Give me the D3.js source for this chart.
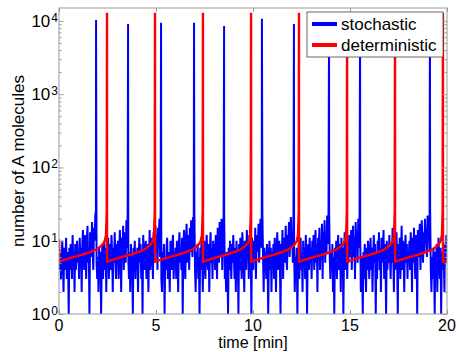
<!DOCTYPE html>
<html>
<head>
<meta charset="utf-8">
<script src="https://cdn.jsdelivr.net/npm/d3@7"></script>
<style>
    body { margin: 0; background: #fff; }
    svg { display: block; font-family: "Liberation Sans", Arial, Helvetica, sans-serif; }
</style>
</head>
<body>
<svg id="chart" width="459" height="352"></svg>
<script>
// ---- data ----
const xTicks = [0, 5, 10, 15, 20];
const yDecades = [1, 10, 100, 1000, 10000];
const yDecadeExp = ['0', '1', '2', '3', '4'];

// stochastic trace: copy numbers, 30 samples per minute over 0..20 min
const stochValues = [
    9,4,7,3,6,10,5,2,8,4,6,11,3,7,5,1,8,4,9,6,3,12,5,7,2,9,4,6,10,5,
    7,3,11,5,8,2,9,14,6,4,12,7,3,10,16,5,8,1,13,6,9,18,7,4,15,10,22,26,5,3,
    6,2,8,4,7,1,5,9,3,6,10,4,8,2,7,5,11,3,6,9,4,12,7,2,8,5,13,6,3,9,
    5,10,3,8,14,6,2,11,7,16,4,9,13,5,19,8,24,6,3,7,2,9,4,6,1,8,5,10,3,7,
    4,8,2,6,11,5,9,3,7,1,12,6,4,8,10,3,5,9,2,7,14,4,6,11,8,3,13,5,9,16,
    7,12,4,15,9,20,6,28,3,2,7,5,9,1,6,4,8,11,3,7,5,2,10,6,4,9,12,3,7,5,
    8,3,10,6,2,9,13,5,7,4,11,1,8,14,6,3,10,17,5,9,12,4,15,7,19,10,6,21,8,25,
    4,2,7,5,9,3,6,1,8,4,11,6,2,7,10,5,3,8,12,6,4,9,2,7,13,5,8,3,10,6,
    9,4,12,7,3,15,8,5,18,6,11,20,4,14,9,23,3,6,2,7,5,1,8,4,10,6,3,9,5,12,
    6,3,8,2,10,5,7,1,9,4,11,6,3,13,8,5,2,10,7,4,14,6,9,3,12,5,8,1,11,7,
    4,10,6,15,3,9,12,7,17,5,11,20,8,14,24,6,2,8,4,7,3,9,5,1,6,10,4,8,2,7,
    5,9,3,11,6,2,8,13,4,7,10,5,1,9,6,14,3,8,11,5,16,7,4,12,9,18,6,10,21,8,
    13,5,24,7,2,6,4,8,1,5,9,3,7,11,4,6,2,10,5,8,3,12,6,1,7,9,4,11,5,8,
    3,10,6,12,4,8,14,5,9,2,11,7,15,4,10,6,17,3,13,8,19,5,11,7,22,9,14,26,6,3,
    7,4,9,2,6,1,8,5,10,3,7,12,4,6,9,2,11,5,8,1,6,13,4,7,10,3,9,5,12,6,
    8,14,4,10,16,6,11,3,18,9,13,5,20,8,23,12,2,6,4,1,7,3,9,5,2,8,4,10,6,3,
    7,11,4,8,2,6,12,5,9,1,7,3,10,6,13,4,8,2,11,5,7,14,3,9,6,1,10,4,8,5,
    12,6,3,9,5,15,7,2,10,4,8,13,6,1,9,5,11,3,7,16,4,10,6,2,8,12,5,9,3,7,
    6,10,4,13,8,2,11,5,15,7,3,12,9,1,14,6,10,17,4,8,19,11,5,13,7,20,9,15,6,22,
    10,18,7,25,4,2,6,3,8,5,1,7,4,9,2,6,11,5,3,8,1,7,4,10,6,2,9,5,12,7
];
const stochSpikeTimes = [1.91, 3.56, 5.26, 6.96, 8.51, 10.46, 12.11, 13.92, 15.52, 19.12];
const stochSpikePeaks = [10300, 9100, 9400, 9400, 8500, 10700, 9100, 9500, 9300, 9400];

// deterministic trace: spike times, peak and the rise before each spike
const detSpikeTimes = [2.474, 4.948, 7.42, 9.90, 12.37, 14.85, 17.32, 19.79];
const detPeak = 12900;
const detStart = [10.5, 5.2];            // value at t=0, then right after
const detRiseBefore = [2.45, 2.0, 1.5, 1.0, 0.5, 0.25, 0.12, 0.05, 0.015]; // minutes before spike
const detRiseValues = [5.2, 5.7, 6.2, 6.8, 7.7, 8.7, 9.8, 12, 25];
const detEnd = 5.25;

// ---- layout ----
const svg = d3.select('#chart');
const mLeft = 59, mRight = 447, mTop = 8, mBottom = 314;
const axisColor = '#9a9a9a';
const fs = 17;

const x = d3.scaleLinear().domain([0, 20]).range([mLeft, mRight]);
const y = d3.scaleLog().domain([1, 15000]).range([mBottom, mTop]);

svg.append('defs').append('clipPath').attr('id', 'plotClip')
    .append('rect').attr('x', mLeft).attr('y', mTop)
    .attr('width', mRight - mLeft).attr('height', mBottom - mTop);

// build stochastic points, with spikes slotted in at their times
const nS = stochValues.length;
let stochPts = stochValues.map((v, i) => [i * 20 / (nS - 1), v]);
stochSpikeTimes.forEach((t, k) => stochPts.push([t, stochSpikePeaks[k]]));
stochPts.sort((a, b) => a[0] - b[0]);

// build deterministic points
let detPts = [[0, detStart[0]], [0.02, detStart[1]]];
detSpikeTimes.forEach((ts, k) => {
    const prev = k == 0 ? 0.02 : detSpikeTimes[k - 1] + 0.004;
    if (k > 0) detPts.push([prev, detStart[1]]);
    detRiseBefore.forEach((dt, j) => {
        const t = ts - dt;
        if (t > prev) detPts.push([t, detRiseValues[j]]);
    });
    detPts.push([ts, detPeak]);
});
detPts.push([detSpikeTimes[detSpikeTimes.length - 1] + 0.004, detStart[1]]);
detPts.push([20, detEnd]);

const line = d3.line().x(d => x(d[0])).y(d => y(d[1]));

const plot = svg.append('g').attr('clip-path', 'url(#plotClip)');
plot.append('path').datum(stochPts)
    .attr('d', line).attr('fill', 'none')
    .attr('stroke', '#0000ff').attr('stroke-width', 2).attr('stroke-linejoin', 'bevel');
plot.append('path').datum(detPts)
    .attr('d', line).attr('fill', 'none')
    .attr('stroke', '#ff0000').attr('stroke-width', 2.4);

// ---- axes (ticks inside, MATLAB box) ----
let minor = [];
yDecades.forEach(d => { for (let m = 2; m <= 9; m++) if (d * m < 15000) minor.push(d * m); });

function styleAxis(g) {
    g.select('.domain').remove();
    g.selectAll('line').attr('stroke', axisColor);
}
svg.append('g').attr('transform', `translate(${mLeft},0)`)
    .call(d3.axisLeft(y).tickValues(yDecades).tickSize(-4.5).tickFormat(''))
    .call(styleAxis);
svg.append('g').attr('transform', `translate(${mLeft},0)`)
    .call(d3.axisLeft(y).tickValues(minor).tickSize(-2.5).tickFormat(''))
    .call(styleAxis);
svg.append('g').attr('transform', `translate(${mRight},0)`)
    .call(d3.axisRight(y).tickValues(yDecades).tickSize(-4.5).tickFormat(''))
    .call(styleAxis);
svg.append('g').attr('transform', `translate(${mRight},0)`)
    .call(d3.axisRight(y).tickValues(minor).tickSize(-2.5).tickFormat(''))
    .call(styleAxis);
svg.append('g').attr('transform', `translate(0,${mBottom})`)
    .call(d3.axisBottom(x).tickValues(xTicks).tickSize(-4).tickFormat(''))
    .call(styleAxis);
svg.append('g').attr('transform', `translate(0,${mTop})`)
    .call(d3.axisTop(x).tickValues(xTicks).tickSize(-4).tickFormat(''))
    .call(styleAxis);

svg.append('rect').attr('x', mLeft).attr('y', mTop)
    .attr('width', mRight - mLeft).attr('height', mBottom - mTop)
    .attr('fill', 'none').attr('stroke', axisColor).attr('stroke-width', 1);

// tick labels
const yLab = svg.append('g').attr('font-size', fs).attr('fill', '#000');
yDecades.forEach((d, i) => {
    const t = yLab.append('text').attr('x', 58).attr('y', y(d) + 6).attr('text-anchor', 'end');
    t.append('tspan').text('10');
    t.append('tspan').attr('font-size', 12).attr('dy', -5).attr('dx', 1).text(yDecadeExp[i]);
});
svg.append('g').selectAll('text').data(xTicks).enter().append('text')
    .attr('x', d => x(d)).attr('y', 330.5)
    .attr('text-anchor', 'middle').attr('font-size', 16)
    .text(d => d);

svg.append('text').attr('x', (mLeft + mRight) / 2).attr('y', 348.3)
    .attr('text-anchor', 'middle').attr('font-size', 16).text('time [min]');
svg.append('text').attr('transform', `translate(24,${(mTop + mBottom) / 2}) rotate(-90)`)
    .attr('text-anchor', 'middle').attr('font-size', fs).text('number of A molecules');

// ---- legend ----
const leg = svg.append('g');
leg.append('rect').attr('x', 307).attr('y', 12).attr('width', 136).attr('height', 45)
    .attr('fill', '#fff').attr('stroke', '#444').attr('stroke-width', 0.8);
const legItems = [['stochastic', '#0000ff'], ['deterministic', '#ff0000']];
legItems.forEach((it, i) => {
    const ly = 24 + i * 21;
    leg.append('line').attr('x1', 312).attr('x2', 337).attr('y1', ly).attr('y2', ly)
        .attr('stroke', it[1]).attr('stroke-width', 4);
    leg.append('text').attr('x', 341).attr('y', ly + 6).attr('font-size', fs).text(it[0]);
});
</script>
</body>
</html>
